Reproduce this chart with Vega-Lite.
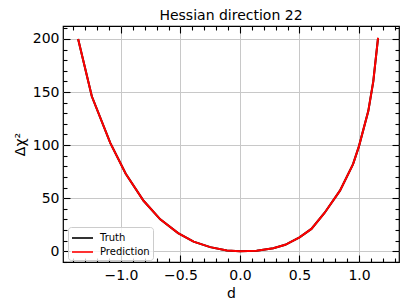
{
  "$schema": "https://vega.github.io/schema/vega-lite/v6.json",
  "autosize": {"type": "none"},
  "width": 336,
  "height": 236,
  "padding": {"left": 63, "top": 26, "right": 10, "bottom": 45},
  "background": "white",
  "title": {"text": "Hessian direction 22", "fontSize": 14, "font": "DejaVu Sans", "fontWeight": "normal", "color": "black", "offset": -2},
  "data": {"values": [
    {"d": -1.36, "chi2": 200},
    {"d": -1.245, "chi2": 146},
    {"d": -1.09, "chi2": 102},
    {"d": -0.96, "chi2": 73},
    {"d": -0.81, "chi2": 47.5},
    {"d": -0.67, "chi2": 30},
    {"d": -0.52, "chi2": 17},
    {"d": -0.39, "chi2": 9},
    {"d": -0.25, "chi2": 3.8},
    {"d": -0.11, "chi2": 0.7},
    {"d": 0.0, "chi2": 0},
    {"d": 0.14, "chi2": 0.3},
    {"d": 0.28, "chi2": 2.8},
    {"d": 0.38, "chi2": 6},
    {"d": 0.5, "chi2": 13},
    {"d": 0.6, "chi2": 21},
    {"d": 0.71, "chi2": 36},
    {"d": 0.84, "chi2": 57},
    {"d": 0.95, "chi2": 82},
    {"d": 1.0, "chi2": 99},
    {"d": 1.078, "chi2": 132},
    {"d": 1.12, "chi2": 160},
    {"d": 1.16, "chi2": 201}
  ]},
  "config": {
    "view": {"stroke": "black", "strokeWidth": 1.2},
    "font": "DejaVu Sans",
    "axis": {
      "domain": false,
      "tickColor": "black",
      "tickWidth": 1.1,
      "labelColor": "black",
      "titleColor": "black",
      "labelFontSize": 14,
      "titleFontSize": 14,
      "titleFontWeight": "normal",
      "labelFont": "DejaVu Sans",
      "titleFont": "DejaVu Sans",
      "labelOverlap": false,
      "labelFlush": false,
      "labelBound": false,
      "gridColor": "#c8c8c8",
      "gridWidth": 1
    }
  },
  "layer": [
    {
      "mark": {"type": "line", "strokeWidth": 2},
      "encoding": {
        "x": {
          "field": "d", "type": "quantitative",
          "scale": {"domain": [-1.487, 1.336], "nice": false, "zero": false},
          "axis": {
            "orient": "bottom",
            "values": [-1.4, -1.3, -1.2, -1.1, -1.0, -0.9, -0.8, -0.7, -0.6, -0.5, -0.4, -0.3, -0.2, -0.1, 0.0, 0.1, 0.2, 0.3, 0.4, 0.5, 0.6, 0.7, 0.8, 0.9, 1.0, 1.1, 1.2, 1.3],
            "labelExpr": "abs(datum.value*2 - round(datum.value*2)) < 0.001 ? replace(format(datum.value, '.1f'), '-', '\u2212') : ''",
            "tickSize": {"condition": {"test": "abs(datum.value*2 - round(datum.value*2)) < 0.001", "value": -7}, "value": -4},
            "labelPadding": 13,
            "grid": true,
            "gridOpacity": {"condition": {"test": "abs(datum.value*2 - round(datum.value*2)) < 0.001", "value": 1}, "value": 0},
            "title": "d",
            "titlePadding": 1
          }
        },
        "y": {
          "field": "chi2", "type": "quantitative",
          "scale": {"domain": [-10.2, 212.2], "nice": false, "zero": false},
          "axis": {
            "orient": "left",
            "values": [-10, 0, 10, 20, 30, 40, 50, 60, 70, 80, 90, 100, 110, 120, 130, 140, 150, 160, 170, 180, 190, 200, 210],
            "labelExpr": "datum.value % 50 === 0 ? format(datum.value, 'd') : ''",
            "tickSize": {"condition": {"test": "datum.value % 50 === 0", "value": -7}, "value": -4},
            "labelPadding": 11,
            "grid": true,
            "gridOpacity": {"condition": {"test": "datum.value % 50 === 0", "value": 1}, "value": 0},
            "title": "Δχ²",
            "titlePadding": 5
          }
        },
        "color": {
          "datum": "Truth", "type": "nominal",
          "scale": {"domain": ["Truth", "Prediction"], "range": ["black", "red"]},
          "legend": {
            "title": null,
            "orient": "none",
            "legendX": 5,
            "legendY": 201,
            "symbolType": "M-1,0H2",
            "symbolSize": 196,
            "symbolStrokeWidth": 1.6,
            "labelFontSize": 10,
            "labelFont": "DejaVu Sans",
            "labelColor": "black",
            "padding": 3,
            "rowPadding": 1,
            "strokeColor": "#cccccc",
            "fillColor": "rgba(255,255,255,0.8)",
            "cornerRadius": 3,
            "labelOffset": 13
          }
        }
      }
    },
    {
      "mark": {"type": "line", "strokeWidth": 2},
      "encoding": {
        "x": {
          "field": "d", "type": "quantitative",
          "axis": {
            "orient": "top",
            "values": [-1.4, -1.3, -1.2, -1.1, -1.0, -0.9, -0.8, -0.7, -0.6, -0.5, -0.4, -0.3, -0.2, -0.1, 0.0, 0.1, 0.2, 0.3, 0.4, 0.5, 0.6, 0.7, 0.8, 0.9, 1.0, 1.1, 1.2, 1.3],
            "labels": false,
            "grid": false,
            "title": null,
            "tickSize": {"condition": {"test": "abs(datum.value*2 - round(datum.value*2)) < 0.001", "value": -7}, "value": -4}
          }
        },
        "y": {
          "field": "chi2", "type": "quantitative",
          "axis": {
            "orient": "right",
            "values": [-10, 0, 10, 20, 30, 40, 50, 60, 70, 80, 90, 100, 110, 120, 130, 140, 150, 160, 170, 180, 190, 200, 210],
            "labels": false,
            "grid": false,
            "title": null,
            "tickSize": {"condition": {"test": "datum.value % 50 === 0", "value": -7}, "value": -4}
          }
        },
        "color": {"datum": "Prediction", "type": "nominal"}
      }
    }
  ],
  "resolve": {"axis": {"x": "independent", "y": "independent"}}
}
